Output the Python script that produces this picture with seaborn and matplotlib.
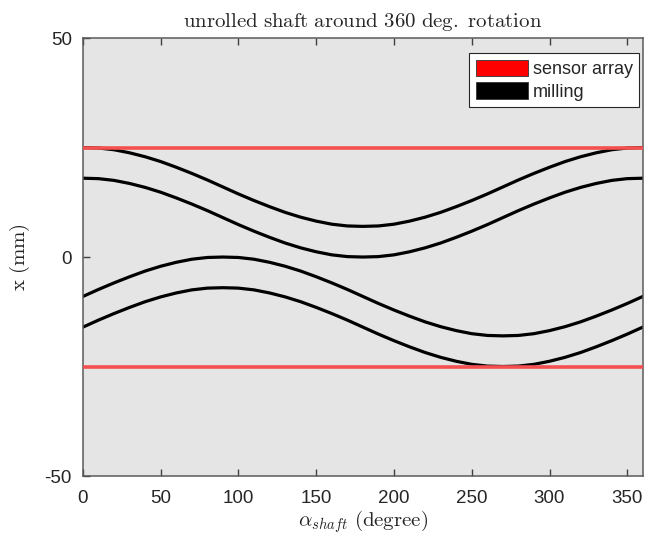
import numpy as np
import pandas as pd
import matplotlib
matplotlib.use("Agg")
import matplotlib.pyplot as plt
import seaborn as sns
from matplotlib.patches import Patch

# ---- data ----
alpha_deg = [0, 10, 20, 30, 40, 50, 60, 70, 80, 90, 100, 110, 120, 130, 140, 150, 160, 170,
             180, 190, 200, 210, 220, 230, 240, 250, 260, 270, 280, 290, 300, 310, 320, 330,
             340, 350, 360]
milling_1 = [25.0, 24.9, 24.5, 23.8, 22.9, 21.8, 20.5, 19.1, 17.6, 16.0, 14.4, 12.9, 11.5, 10.2,
             9.1, 8.2, 7.5, 7.1, 7.0, 7.1, 7.5, 8.2, 9.1, 10.2, 11.5, 12.9, 14.4, 16.0, 17.6,
             19.1, 20.5, 21.8, 22.9, 23.8, 24.5, 24.9, 25.0]
milling_2 = [18.0, 17.9, 17.5, 16.8, 15.9, 14.8, 13.5, 12.1, 10.6, 9.0, 7.4, 5.9, 4.5, 3.2,
             2.1, 1.2, 0.5, 0.1, 0.0, 0.1, 0.5, 1.2, 2.1, 3.2, 4.5, 5.9, 7.4, 9.0, 10.6, 12.1,
             13.5, 14.8, 15.9, 16.8, 17.5, 17.9, 18.0]
milling_3 = [-9.0, -7.4, -5.9, -4.5, -3.2, -2.1, -1.2, -0.5, -0.1, 0.0, -0.1, -0.5, -1.2, -2.1,
             -3.2, -4.5, -5.9, -7.4, -9.0, -10.6, -12.1, -13.5, -14.8, -15.9, -16.8, -17.5,
             -17.9, -18.0, -17.9, -17.5, -16.8, -15.9, -14.8, -13.5, -12.1, -10.6, -9.0]
milling_4 = [-16.0, -14.4, -12.9, -11.5, -10.2, -9.1, -8.2, -7.5, -7.1, -7.0, -7.1, -7.5, -8.2,
             -9.1, -10.2, -11.5, -12.9, -14.4, -16.0, -17.6, -19.1, -20.5, -21.8, -22.9, -23.8,
             -24.5, -24.9, -25.0, -24.9, -24.5, -23.8, -22.9, -21.8, -20.5, -19.1, -17.6, -16.0]
sensor_x = [0, 360]
sensor_top = [25, 25]
sensor_bottom = [-25, -25]

legend_labels = ["sensor array", "milling"]
x_ticks = [0, 50, 100, 150, 200, 250, 300, 350]
y_ticks = [-50, 0, 50]

# ---- frames ----
mill = pd.concat([
    pd.DataFrame({"alpha": alpha_deg, "x": m, "curve": f"m{i}"})
    for i, m in enumerate([milling_1, milling_2, milling_3, milling_4])
])
sens = pd.concat([
    pd.DataFrame({"alpha": sensor_x, "x": sensor_top, "curve": "top"}),
    pd.DataFrame({"alpha": sensor_x, "x": sensor_bottom, "curve": "bottom"}),
])

sns.set_theme(style="ticks")
plt.rcParams["mathtext.fontset"] = "cm"
plt.rcParams["font.family"] = ["Liberation Sans", "DejaVu Sans"]

fig = plt.figure(figsize=(6.48, 5.4), dpi=100)
ax = fig.add_axes([0.128, 0.1185, 0.864, 0.811])
ax.set_facecolor("#e5e5e5")

sns.lineplot(data=mill, x="alpha", y="x", units="curve", estimator=None,
             color="black", linewidth=2.3, ax=ax, legend=False, zorder=2)
sns.lineplot(data=sens, x="alpha", y="x", units="curve", estimator=None,
             color="#f55050", linewidth=2.6, ax=ax, legend=False, zorder=3)

ax.set_xlim(0, 360)
ax.set_ylim(-50, 50)
ax.set_xticks(x_ticks)
ax.set_yticks(y_ticks)
ax.set_xticklabels([str(t) for t in x_ticks])
ax.set_yticklabels([str(t) for t in y_ticks])
ax.tick_params(direction="in", length=5, width=1, colors="#404040",
               labelsize=13.5, labelcolor="#262626", right=False)
ax.tick_params(axis="x", top=True, labeltop=False, pad=10)
ax.tick_params(axis="y", pad=8)
for s in ax.spines.values():
    s.set_color("#5a5a5a")
    s.set_linewidth(1.1)

ax.set_title(r"$\mathrm{unrolled\ shaft\ around\ 360\ deg.\ rotation}$",
             fontsize=15, color="#262626", pad=8)
ax.set_xlabel(r"$\alpha_{shaft}\ \mathrm{(degree)}$", fontsize=15, color="#262626", labelpad=1)
ax.set_ylabel(r"$\mathrm{x\ (mm)}$", fontsize=15, color="#262626", labelpad=9)

handles = [Patch(facecolor="#ff0000", edgecolor="#333333", linewidth=0.6),
           Patch(facecolor="#000000", edgecolor="#333333", linewidth=0.6)]
leg = ax.legend(handles, legend_labels, loc="upper right", bbox_to_anchor=(0.993, 0.965),
                fontsize=13, frameon=True, fancybox=False, framealpha=1,
                handlelength=2.9, handleheight=1.0, handletextpad=0.25,
                borderpad=0.35, labelspacing=0.25, borderaxespad=0.0)
leg.get_frame().set_edgecolor("#262626")
leg.get_frame().set_linewidth(0.8)

fig.savefig("out.png", dpi=100)
